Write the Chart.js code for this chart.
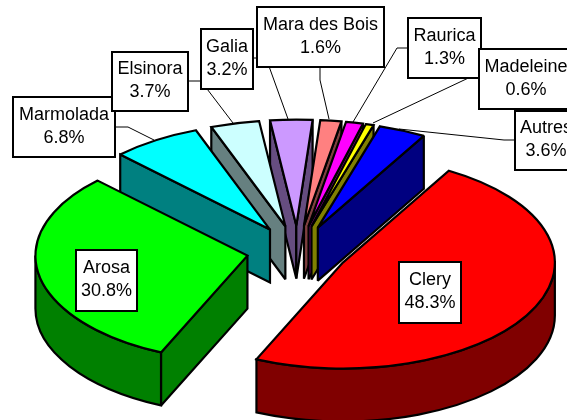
<!DOCTYPE html>
<html>
<head>
<meta charset="utf-8">
<style>
  html, body { margin: 0; padding: 0; background: #ffffff; overflow: hidden; }
  canvas { display: block; }
</style>
<script src="https://cdn.jsdelivr.net/npm/chart.js@4/dist/chart.umd.min.js"></script>
</head>
<body>
<canvas id="pieChart" width="567" height="420"></canvas>
<script>
const varieties = ["Clery", "Arosa", "Marmolada", "Elsinora", "Galia", "Mara des Bois", "Raurica", "Madeleine", "Autres"];
const shares = [48.3, 30.8, 6.8, 3.7, 3.2, 1.6, 1.3, 0.6, 3.6];
const topColors = ["#ff0000", "#00ff00", "#00ffff", "#ccffff", "#cc99ff", "#ff8080", "#ff00ff", "#ffff00", "#0000ff"];
const sideColors = ["#800000", "#008000", "#008080", "#668080", "#664d80", "#804040", "#800080", "#808000", "#000080"];

// label boxes: left, top, right, bottom, in drawing order
const labelBoxes = {
  Clery: [399, 262, 461, 323],
  Arosa: [76, 250, 137, 311],
  Marmolada: [13, 97, 115, 157],
  Elsinora: [112, 52, 188, 111],
  Galia: [201, 29, 253, 89],
  "Mara des Bois": [257, 7, 384, 67],
  Raurica: [408, 18, 481, 78],
  Madeleine: [479, 49, 573, 109],
  Autres: [515, 111, 577, 170],
};

const leaderLines = [
  [[115, 127], [128, 127], [154, 140]],
  [[188, 81], [201, 81], [233, 123]],
  [[253, 58], [266, 58], [288, 119]],
  [[320, 60], [320, 80], [329, 119]],
  [[408, 48], [397, 48], [353, 122]],
  [[479, 73], [373, 123]],
  [[515, 140], [504, 140], [399, 129]],
];

const RADIUS_X = 212;
const RADIUS_Y = 106;
const DEPTH = 53;
const EDGE = 2.2;

function drawSlice(ctx, arc, index) {
  const mid = (arc.startAngle + arc.endAngle) / 2;
  const scaleX = RADIUS_X / arc.outerRadius;
  const scaleY = RADIUS_Y / arc.outerRadius;
  const cx = arc.x + Math.cos(mid) * arc.options.offset * scaleX;
  const cy = arc.y + Math.sin(mid) * arc.options.offset * scaleY;
  const start = arc.startAngle;
  const end = arc.endAngle;
  const pointAt = (a) => [cx + Math.cos(a) * RADIUS_X, cy + Math.sin(a) * RADIUS_Y];

  ctx.lineWidth = EDGE;
  ctx.strokeStyle = "#000000";
  ctx.lineJoin = "miter";
  ctx.miterLimit = 2;
  ctx.fillStyle = sideColors[index];

  // straight walls, only the ones that face the viewer
  const walls = [];
  if (Math.cos(start) < 0) walls.push(pointAt(start));
  if (Math.cos(end) > 0) walls.push(pointAt(end));
  walls.forEach((p) => {
    ctx.beginPath();
    ctx.moveTo(cx, cy);
    ctx.lineTo(p[0], p[1]);
    ctx.lineTo(p[0], p[1] + DEPTH);
    ctx.lineTo(cx, cy + DEPTH);
    ctx.closePath();
    ctx.fill();
    ctx.stroke();
  });

  // curved wall: the part of the rim on the near side
  let a0 = start;
  let a1 = end;
  while (a0 < 0) { a0 += Math.PI * 2; a1 += Math.PI * 2; }
  const spans = [[a0, Math.min(a1, Math.PI)], [Math.max(a0, Math.PI * 2), Math.min(a1, Math.PI * 3)]];
  spans.forEach(([from, to]) => {
    if (to <= from) return;
    ctx.beginPath();
    ctx.ellipse(cx, cy, RADIUS_X, RADIUS_Y, 0, from, to);
    ctx.ellipse(cx, cy + DEPTH, RADIUS_X, RADIUS_Y, 0, to, from, true);
    ctx.closePath();
    ctx.fill();
    ctx.stroke();
  });

  // top face
  ctx.fillStyle = topColors[index];
  ctx.beginPath();
  ctx.moveTo(cx, cy);
  ctx.ellipse(cx, cy, RADIUS_X, RADIUS_Y, 0, start, end);
  ctx.closePath();
  ctx.fill();
  ctx.stroke();
}

const pie3d = {
  id: "pie3d",
  beforeDatasetsDraw(chart) {
    const ctx = chart.ctx;
    const arcs = chart.getDatasetMeta(0).data;
    const order = arcs
      .map((arc, i) => ({ arc, i, y: Math.sin((arc.startAngle + arc.endAngle) / 2) }))
      .sort((a, b) => a.y - b.y);
    ctx.save();
    order.forEach((item) => drawSlice(ctx, item.arc, item.i));
    ctx.restore();
    return false;
  },
  afterDraw(chart) {
    const ctx = chart.ctx;
    ctx.save();
    ctx.strokeStyle = "#000000";
    ctx.lineWidth = 1;
    leaderLines.forEach((line) => {
      ctx.beginPath();
      line.forEach((p, i) => (i === 0 ? ctx.moveTo(p[0], p[1]) : ctx.lineTo(p[0], p[1])));
      ctx.stroke();
    });

    ctx.font = '18px "Liberation Sans", Arial, sans-serif';
    ctx.textAlign = "center";
    ctx.textBaseline = "middle";
    varieties.forEach((name, i) => {
      const [l, t, r, b] = labelBoxes[name];
      ctx.fillStyle = "#ffffff";
      ctx.fillRect(l, t, r - l, b - t);
      ctx.lineWidth = 2;
      ctx.strokeRect(l, t, r - l, b - t);
      ctx.fillStyle = "#000000";
      const mx = (l + r) / 2;
      const my = (t + b) / 2;
      ctx.fillText(name, mx, my - 12);
      ctx.fillText(shares[i].toFixed(1) + "%", mx, my + 11);
    });
    ctx.restore();
  },
};

new Chart(document.getElementById("pieChart"), {
  type: "pie",
  data: {
    labels: varieties,
    datasets: [
      {
        data: shares,
        backgroundColor: topColors,
        borderColor: "#000000",
        borderWidth: EDGE,
        offset: 36,
      },
    ],
  },
  options: {
    responsive: false,
    animation: false,
    rotation: 30,
    layout: { padding: { left: 28, top: 82 } },
    plugins: {
      legend: { display: false },
      tooltip: { enabled: false },
    },
  },
  plugins: [pie3d],
});
</script>
</body>
</html>
